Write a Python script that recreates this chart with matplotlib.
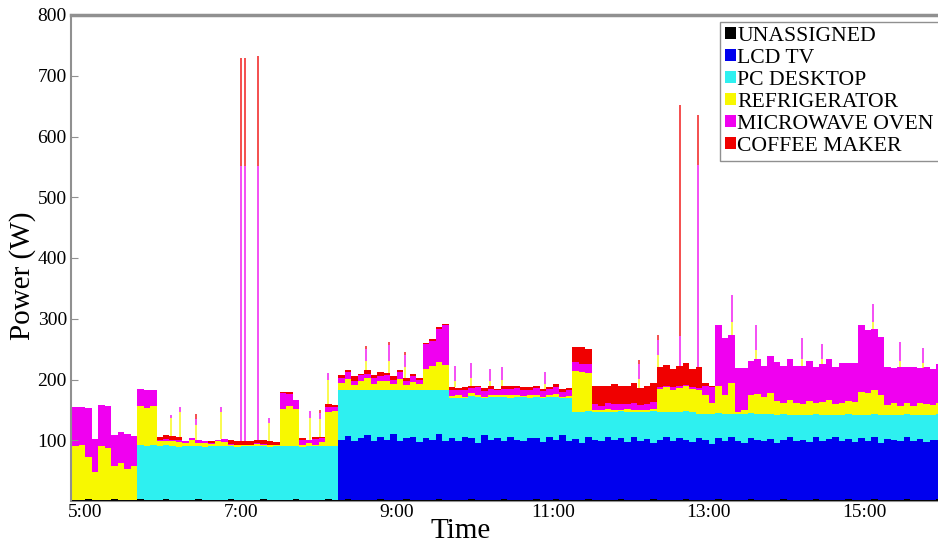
import numpy as np
import matplotlib.pyplot as plt
from matplotlib.patches import Patch

plt.rcParams['font.family'] = ['Liberation Serif', 'DejaVu Serif']

# 5-minute slots starting at 4:50, one row per hour
unassigned = [2, 2, 3, 2, 2, 2, 3, 2, 2, 2, 3, 2,
              2, 2, 3, 2, 2, 2, 2, 3, 2, 2, 2, 2,
              3, 2, 2, 2, 2, 3, 2, 2, 2, 2, 3, 2,
              2, 2, 2, 3, 2, 2, 3, 2, 2, 2, 2, 3,
              2, 2, 2, 3, 2, 2, 2, 2, 3, 2, 2, 2,
              2, 3, 2, 2, 2, 2, 3, 2, 2, 2, 2, 3,
              2, 2, 3, 2, 2, 2, 2, 3, 2, 2, 2, 2,
              3, 2, 2, 2, 2, 3, 2, 2, 2, 2, 3, 2,
              2, 2, 2, 3, 2, 2, 2, 2, 3, 2, 2, 2,
              2, 3, 2, 2, 2, 2, 3, 2, 2, 2, 2, 3,
              2, 2, 2, 3, 2, 2, 2, 2, 3, 2, 2, 2,
              2, 3]
lcd_tv = [0, 0, 0, 0, 0, 0, 0, 0, 0, 0, 0, 0,
          0, 0, 0, 0, 0, 0, 0, 0, 0, 0, 0, 0,
          0, 0, 0, 0, 0, 0, 0, 0, 0, 0, 0, 0,
          0, 0, 0, 0, 0, 98, 104, 96, 101, 106, 97, 103,
          99, 108, 96, 100, 104, 95, 102, 99, 107, 97, 101, 96,
          103, 100, 94, 106, 98, 101, 95, 104, 99, 97, 102, 100,
          95, 103, 98, 106, 97, 100, 94, 102, 99, 96, 104, 98,
          101, 95, 103, 97, 100, 93, 99, 104, 96, 101, 97, 95,
          102, 98, 92, 100, 96, 103, 97, 94, 101, 99, 96, 100,
          94, 98, 103, 96, 99, 95, 102, 97, 100, 104, 96, 99,
          95, 101, 97, 103, 94, 100, 98, 96, 102, 97, 100, 95,
          99, 98]
pc_desktop = [0, 0, 0, 0, 0, 0, 0, 0, 0, 0, 90, 89,
              90, 88, 89, 88, 87, 88, 89, 88, 87, 88, 88, 89,
              88, 87, 88, 88, 89, 88, 87, 88, 88, 89, 88, 87,
              88, 88, 89, 88, 88, 82, 76, 84, 79, 74, 83, 77,
              81, 72, 84, 80, 76, 85, 78, 81, 73, 83, 67, 72,
              65, 70, 76, 62, 71, 68, 74, 64, 70, 72, 66, 69,
              73, 66, 71, 62, 71, 45, 51, 43, 46, 49, 41, 47,
              44, 50, 42, 48, 45, 52, 46, 41, 49, 44, 48, 50,
              40, 44, 50, 42, 46, 39, 45, 48, 41, 43, 46, 42,
              46, 42, 37, 44, 41, 45, 38, 43, 40, 36, 44, 41,
              45, 39, 43, 37, 46, 40, 42, 44, 38, 43, 40, 45,
              41, 42]
refrigerator = [88, 90, 70, 45, 88, 85, 55, 60, 50, 55, 63, 62,
                64, 8, 7, 9, 8, 6, 10, 5, 7, 4, 8, 6,
                2, 3, 2, 2, 3, 2, 3, 2, 62, 65, 60, 4,
                5, 3, 6, 55, 58, 12, 18, 9, 15, 20, 10, 14,
                16, 11, 19, 8, 14, 10, 36, 40, 45, 42, 3, 4,
                2, 5, 3, 2, 4, 3, 2, 5, 3, 2, 4, 3,
                2, 3, 4, 2, 3, 67, 65, 62, 3, 2, 4, 3,
                2, 4, 3, 2, 3, 4, 38, 40, 36, 39, 41, 37,
                38, 30, 18, 45, 30, 50, 3, 5, 30, 32, 28, 34,
                22, 18, 24, 20, 17, 23, 19, 21, 25, 18, 20, 22,
                21, 38, 35, 40, 33, 16, 19, 14, 18, 15, 20, 17,
                16, 18]
microwave_oven = [65, 62, 80, 55, 68, 70, 50, 52, 58, 50, 28, 30,
                  27, 2, 3, 2, 4, 3, 2, 4, 3, 2, 3, 5,
                  1, 1, 1, 1, 1, 1, 1, 1, 25, 20, 15, 8,
                  6, 9, 7, 8, 6, 8, 12, 6, 10, 7, 11, 9,
                  10, 7, 12, 6, 9, 8, 40, 42, 55, 65, 10, 9,
                  11, 8, 12, 9, 10, 8, 11, 9, 12, 10, 8, 11,
                  9, 10, 12, 8, 10, 15, 14, 16, 10, 8, 11, 9,
                  10, 8, 12, 9, 10, 11, 3, 2, 4, 3, 2, 3,
                  4, 15, 25, 100, 95, 80, 72, 70, 55, 58, 50, 60,
                  65, 62, 68, 60, 64, 66, 58, 63, 67, 61, 65, 62,
                  64, 110, 105, 100, 95, 62, 58, 65, 60, 63, 57, 61,
                  60, 64]
coffee_maker = [0, 0, 0, 0, 0, 0, 0, 0, 0, 0, 0, 0,
                0, 6, 7, 6, 5, 0, 1, 0, 0, 2, 0, 0,
                6, 5, 6, 6, 5, 6, 5, 4, 2, 3, 0, 2,
                0, 3, 1, 5, 4, 5, 3, 8, 2, 6, 4, 7,
                3, 6, 2, 5, 4, 3, 2, 3, 4, 2, 4, 3,
                5, 4, 3, 5, 4, 3, 4, 5, 3, 4, 5, 3,
                4, 3, 5, 4, 3, 25, 28, 24, 30, 32, 28, 34,
                29, 31, 33, 28, 30, 32, 32, 35, 30, 33, 36, 31,
                34, 5, 3, 0, 0, 0, 0, 0, 0, 0, 0, 0,
                0, 0, 0, 0, 0, 0, 0, 0, 0, 0, 0, 0,
                0, 0, 0, 0, 0, 0, 0, 0, 0, 0, 0, 0,
                0, 0]

# short events (hour, extra W above the stack for fridge / microwave / coffee)
spike_hour = [6.10, 6.22, 6.42, 6.75, 7.00, 7.05, 7.22, 7.36, 7.88, 8.02, 8.12,
              8.60, 8.90, 9.10, 9.75, 9.95, 10.20, 10.35, 10.90, 12.10, 12.35,
              12.63, 12.86, 13.30, 13.60, 14.20, 14.45, 15.10, 15.45, 15.75]
spike_fridge = [30, 40, 25, 45, 0, 0, 0, 30, 35, 30, 40,
                15, 20, 18, 10, 12, 8, 10, 8, 15, 20,
                0, 0, 20, 15, 10, 8, 12, 10, 8]
spike_micro = [5, 8, 10, 8, 452, 452, 452, 8, 12, 10, 12,
               20, 25, 20, 25, 25, 20, 22, 20, 25, 25,
               50, 333, 45, 40, 35, 25, 30, 30, 25]
spike_coffee = [0, 0, 8, 0, 178, 178, 181, 0, 0, 5, 0,
                5, 6, 5, 0, 0, 0, 0, 0, 6, 8,
                380, 83, 0, 0, 0, 0, 0, 0, 0]

labels = ['UNASSIGNED', 'LCD TV', 'PC DESKTOP', 'REFRIGERATOR', 'MICROWAVE OVEN', 'COFFEE MAKER']
colors = ['#000000', '#0000EE', '#2EF0F0', '#F8F800', '#F000F0', '#F00000']

series = [unassigned, lcd_tv, pc_desktop, refrigerator, microwave_oven, coffee_maker]
t0 = 4 + 50 / 60
edges = t0 + np.arange(len(lcd_tv) + 1) / 12

fig = plt.figure(figsize=(9.38, 5.44), dpi=100)
ax = fig.add_axes([71 / 938, 1 - 501 / 544, (938 - 71) / 938, 486 / 544])

bottom = np.zeros(len(lcd_tv))
for vals, c in zip(series, colors):
    top = bottom + np.array(vals)
    ax.stairs(top, edges, baseline=bottom, fill=True, color=c, lw=0)
    bottom = top

# spikes on top of the stack
for h, f, m, cf in zip(spike_hour, spike_fridge, spike_micro, spike_coffee):
    idx = int(round((h - t0) * 12 - 0.5))
    base = bottom[idx]
    for amount, c in zip([f, m, cf], colors[3:]):
        if amount > 0:
            ax.vlines(h, base, base + amount, color=c, lw=1.3, alpha=0.75)
            base += amount

ax.set_xlim(4.82, 15.94)
ax.set_ylim(0, 800)
ax.set_yticks(range(100, 900, 100))
ax.set_xticks([5, 7, 9, 11, 13, 15])
ax.set_xticklabels(['5:00', '7:00', '9:00', '11:00', '13:00', '15:00'])
ax.tick_params(axis='y', direction='in', length=5, color='#909090', labelsize=14, pad=3)
ax.tick_params(axis='x', direction='in', length=0, labelsize=14, pad=2)

for s in ['top', 'left', 'bottom']:
    ax.spines[s].set_color('#909090')
ax.spines['top'].set_linewidth(2.5)
ax.spines['left'].set_linewidth(1.5)
ax.spines['right'].set_visible(False)

ax.set_ylabel('Power (W)', fontsize=21)
ax.yaxis.set_label_coords(-0.040, 0.463)
ax.set_xlabel('Time', fontsize=21)
ax.xaxis.set_label_coords(0.449, -0.035)

handles = [Patch(facecolor=c, edgecolor='none') for c in colors]
ax.legend(handles, labels, loc='upper left', bbox_to_anchor=(720 / 938, 1 - 22 / 544),
          bbox_transform=fig.transFigure, fontsize=15.6, labelspacing=0.14,
          handlelength=0.5, handleheight=0.5, handletextpad=0.08, borderpad=0.22,
          borderaxespad=0, fancybox=False, framealpha=1, edgecolor='#909090')

fig.savefig('out.png', dpi=100)
